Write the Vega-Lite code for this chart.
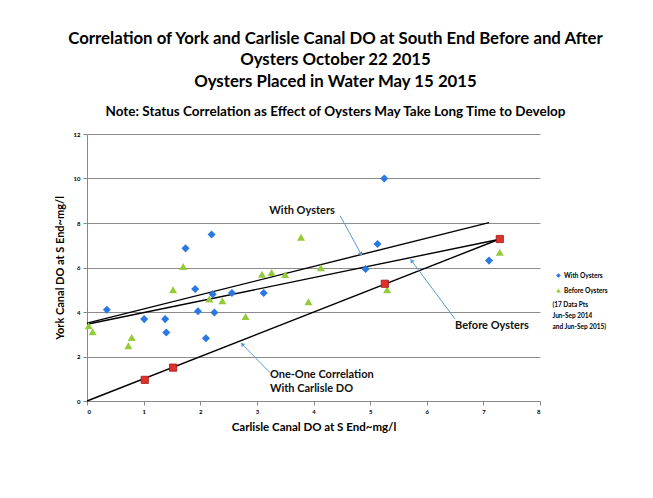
{
  "$schema": "https://vega.github.io/schema/vega-lite/v6.json",
  "width": 453,
  "height": 267,
  "autosize": {"type": "none"},
  "padding": {"left": 87, "top": 134, "right": 113, "bottom": 97},
  "background": "white",
  "config": {"view": {"stroke": null}, "font": "Lato"},
  "title": {
    "text": ["Correlation of York and Carlisle Canal DO at South End Before and After", "Oysters October 22 2015", "Oysters Placed in Water May 15 2015"],
    "subtitle": "Note: Status Correlation as Effect of Oysters May Take Long Time to Develop",
    "font": "Lato",
    "fontSize": 16.8,
    "fontWeight": "bold",
    "color": "black",
    "lineHeight": 21.5,
    "subtitleFont": "Lato",
    "subtitleFontSize": 13.5,
    "subtitleFontWeight": "bold",
    "subtitleColor": "black",
    "subtitlePadding": 14,
    "anchor": "middle",
    "dx": 22,
    "offset": 13
  },
  "datasets": {
    "pts": [
      {"series": "With Oysters", "carlisle": 0.35, "york": 4.1},
      {"series": "With Oysters", "carlisle": 1.01, "york": 3.68},
      {"series": "With Oysters", "carlisle": 1.38, "york": 3.68},
      {"series": "With Oysters", "carlisle": 1.4, "york": 3.08},
      {"series": "With Oysters", "carlisle": 1.74, "york": 6.86},
      {"series": "With Oysters", "carlisle": 1.91, "york": 5.03},
      {"series": "With Oysters", "carlisle": 1.96, "york": 4.03},
      {"series": "With Oysters", "carlisle": 2.1, "york": 2.82},
      {"series": "With Oysters", "carlisle": 2.2, "york": 7.48},
      {"series": "With Oysters", "carlisle": 2.22, "york": 4.8},
      {"series": "With Oysters", "carlisle": 2.25, "york": 3.98},
      {"series": "With Oysters", "carlisle": 2.56, "york": 4.85},
      {"series": "With Oysters", "carlisle": 3.12, "york": 4.85},
      {"series": "With Oysters", "carlisle": 4.92, "york": 5.93},
      {"series": "With Oysters", "carlisle": 5.13, "york": 7.06},
      {"series": "With Oysters", "carlisle": 5.25, "york": 10.0},
      {"series": "With Oysters", "carlisle": 7.1, "york": 6.31},
      {"series": "Before Oysters", "carlisle": 0.03, "york": 3.38},
      {"series": "Before Oysters", "carlisle": 0.1, "york": 3.11},
      {"series": "Before Oysters", "carlisle": 0.73, "york": 2.48},
      {"series": "Before Oysters", "carlisle": 0.79, "york": 2.85},
      {"series": "Before Oysters", "carlisle": 1.52, "york": 5.0},
      {"series": "Before Oysters", "carlisle": 1.7, "york": 6.05},
      {"series": "Before Oysters", "carlisle": 2.16, "york": 4.58},
      {"series": "Before Oysters", "carlisle": 2.39, "york": 4.5},
      {"series": "Before Oysters", "carlisle": 2.8, "york": 3.8},
      {"series": "Before Oysters", "carlisle": 3.09, "york": 5.7},
      {"series": "Before Oysters", "carlisle": 3.26, "york": 5.78},
      {"series": "Before Oysters", "carlisle": 3.5, "york": 5.68},
      {"series": "Before Oysters", "carlisle": 3.78, "york": 7.36},
      {"series": "Before Oysters", "carlisle": 3.91, "york": 4.46},
      {"series": "Before Oysters", "carlisle": 4.13, "york": 5.99},
      {"series": "Before Oysters", "carlisle": 5.3, "york": 5.0},
      {"series": "Before Oysters", "carlisle": 7.29, "york": 6.68}
    ],
    "oneone": [
      {"carlisle": 1.02, "york": 0.95},
      {"carlisle": 1.52, "york": 1.5},
      {"carlisle": 5.26, "york": 5.27},
      {"carlisle": 7.29, "york": 7.28}
    ],
    "lines": [
      {"line": "With Oysters fit", "carlisle": 0, "york": 3.5},
      {"line": "With Oysters fit", "carlisle": 7.1, "york": 8.02},
      {"line": "Before Oysters fit", "carlisle": 0, "york": 3.45},
      {"line": "Before Oysters fit", "carlisle": 7.29, "york": 7.27},
      {"line": "One-One", "carlisle": 0, "york": 0},
      {"line": "One-One", "carlisle": 7.29, "york": 7.28}
    ],
    "arrows": [
      {"label": "With Oysters", "x1": 4.47, "y1": 8.33, "x2": 4.84, "y2": 6.6},
      {"label": "Before Oysters", "x1": 6.5, "y1": 3.68, "x2": 5.73, "y2": 6.31},
      {"label": "One-One", "x1": 3.23, "y1": 1.28, "x2": 2.74, "y2": 2.55}
    ],
    "notes": [
      {"text": "With Oysters", "x": 3.22, "y": 8.56},
      {"text": "Before Oysters", "x": 6.5, "y": 3.38},
      {"text": "One-One Correlation", "x": 3.23, "y": 1.16},
      {"text": "With Carlisle  DO", "x": 3.23, "y": 0.52}
    ],
    "legendnote": [
      {"text": "(17 Data Pts\nJun-Sep 2014\nand Jun-Sep 2015)", "x": 8.22, "y": 4.45}
    ]
  },
  "layer": [
    {
      "data": {"name": "lines"},
      "mark": {"type": "line", "color": "black", "strokeWidth": 1.4},
      "encoding": {
        "x": {
          "field": "carlisle", "type": "quantitative",
          "scale": {"domain": [0, 8], "nice": false},
          "axis": {
            "title": "Carlisle Canal  DO at S End~mg/l",
            "titleFont": "Lato", "titleFontSize": 11.5, "titleFontWeight": "bold", "titleColor": "black",
            "titlePadding": 7,
            "values": [0, 1, 2, 3, 4, 5, 6, 7, 8],
            "format": "d",
            "labelFontSize": 6, "labelFontWeight": "bold", "labelColor": "black", "labelPadding": 3,
            "tickSize": 4, "tickColor": "#888", "domainColor": "#888",
            "grid": false
          }
        },
        "y": {
          "field": "york", "type": "quantitative",
          "scale": {"domain": [0, 12], "nice": false},
          "axis": {
            "title": "York Canal  DO at S End~mg/l",
            "titleFont": "Lato", "titleFontSize": 11, "titleFontWeight": "bold", "titleColor": "black",
            "titlePadding": 8,
            "values": [0, 2, 4, 6, 8, 10, 12],
            "format": "d",
            "labelFontSize": 6, "labelFontWeight": "bold", "labelColor": "black", "labelPadding": 3,
            "tickSize": 4, "tickColor": "#888", "domainColor": "#888",
            "grid": true, "gridColor": "#8c8c8c", "gridWidth": 1
          }
        },
        "detail": {"field": "line"}
      }
    },
    {
      "data": {"name": "arrows"},
      "mark": {"type": "rule", "color": "#5b9bd5", "strokeWidth": 1},
      "encoding": {
        "x": {"field": "x1", "type": "quantitative"},
        "y": {"field": "y1", "type": "quantitative"},
        "x2": {"field": "x2"},
        "y2": {"field": "y2"}
      }
    },
    {
      "data": {"name": "arrows"},
      "transform": [{"filter": "datum.label == 'With Oysters'"}],
      "mark": {"type": "point", "shape": "triangle-up", "filled": true, "color": "#5b9bd5", "size": 22, "angle": 151, "opacity": 1},
      "encoding": {
        "x": {"field": "x2", "type": "quantitative"},
        "y": {"field": "y2", "type": "quantitative"}
      }
    },
    {
      "data": {"name": "arrows"},
      "transform": [{"filter": "datum.label == 'Before Oysters'"}],
      "mark": {"type": "point", "shape": "triangle-up", "filled": true, "color": "#5b9bd5", "size": 22, "angle": -37, "opacity": 1},
      "encoding": {
        "x": {"field": "x2", "type": "quantitative"},
        "y": {"field": "y2", "type": "quantitative"}
      }
    },
    {
      "data": {"name": "arrows"},
      "transform": [{"filter": "datum.label == 'One-One'"}],
      "mark": {"type": "point", "shape": "triangle-up", "filled": true, "color": "#5b9bd5", "size": 22, "angle": -44, "opacity": 1},
      "encoding": {
        "x": {"field": "x2", "type": "quantitative"},
        "y": {"field": "y2", "type": "quantitative"}
      }
    },
    {
      "data": {"name": "pts"},
      "mark": {"type": "point", "filled": true, "opacity": 1, "size": 65},
      "encoding": {
        "x": {"field": "carlisle", "type": "quantitative"},
        "y": {"field": "york", "type": "quantitative"},
        "color": {
          "field": "series", "type": "nominal",
          "scale": {"domain": ["With Oysters", "Before Oysters"], "range": ["#2a78e0", "#95cb3a"]},
          "legend": {
            "title": null, "orient": "none", "legendX": 468, "legendY": 138,
            "labelFontSize": 6.5, "labelFont": "Lato", "labelColor": "black", "labelFontWeight": "bold",
            "symbolSize": 22, "rowPadding": 8, "labelOffset": 2
          }
        },
        "shape": {
          "field": "series", "type": "nominal",
          "scale": {"domain": ["With Oysters", "Before Oysters"], "range": ["diamond", "triangle-up"]}
        }
      }
    },
    {
      "data": {"name": "oneone"},
      "mark": {"type": "square", "color": "#e0312b", "stroke": "#9e1a16", "strokeWidth": 0.8, "size": 52, "opacity": 1},
      "encoding": {
        "x": {"field": "carlisle", "type": "quantitative"},
        "y": {"field": "york", "type": "quantitative"}
      }
    },
    {
      "data": {"name": "notes"},
      "mark": {"type": "text", "align": "left", "baseline": "middle", "font": "Lato", "fontSize": 11, "fontWeight": "bold", "color": "#111"},
      "encoding": {
        "x": {"field": "x", "type": "quantitative"},
        "y": {"field": "y", "type": "quantitative"},
        "text": {"field": "text"}
      }
    },
    {
      "data": {"name": "legendnote"},
      "mark": {"type": "text", "align": "left", "baseline": "top", "font": "Lato", "fontSize": 6.5, "fontWeight": "bold", "color": "black", "lineBreak": "\n", "lineHeight": 11},
      "encoding": {
        "x": {"field": "x", "type": "quantitative"},
        "y": {"field": "y", "type": "quantitative"},
        "text": {"field": "text"}
      }
    }
  ]
}
